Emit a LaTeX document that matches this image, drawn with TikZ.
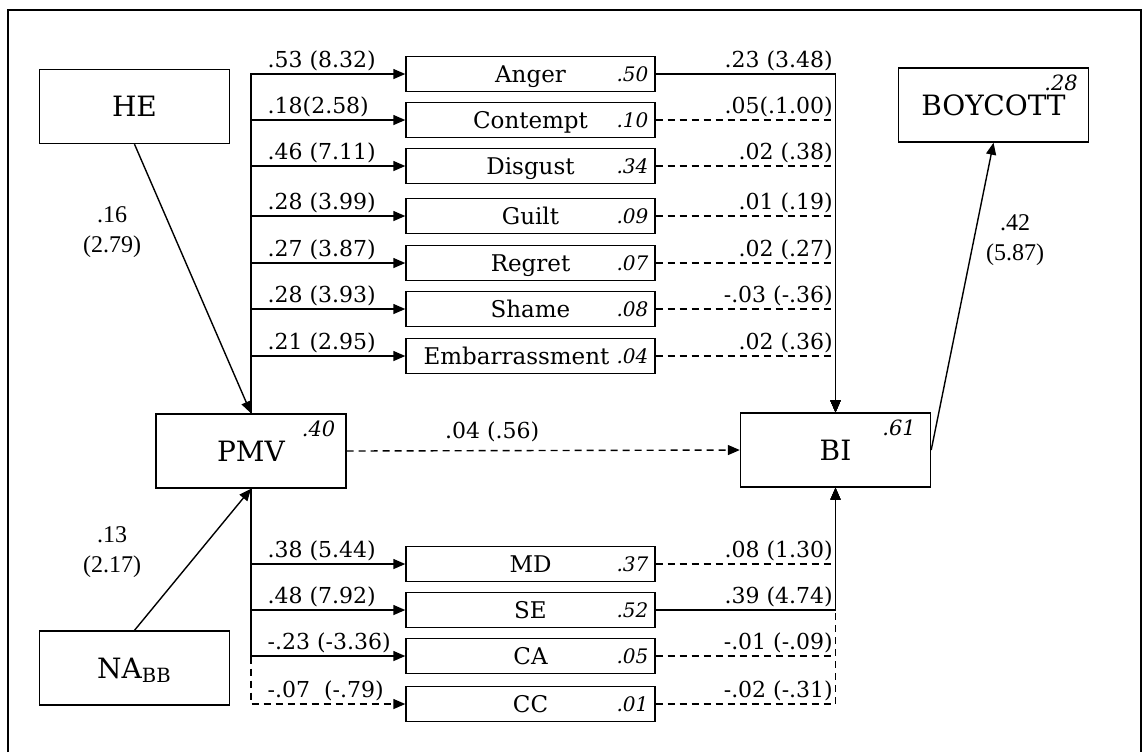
\documentclass[tikz,border=0pt]{standalone}
\usepackage{fontspec}
\setmainfont{DejaVu Serif}
\newfontfamily\timesfont{Liberation Serif}
\usetikzlibrary{arrows.meta}
\tikzset{
  bigbox/.style={draw, line width=0.7pt, minimum width=95pt, minimum height=37pt, text height=10pt, text depth=0pt, font=\fontsize{14}{16}\selectfont},
  emo/.style={draw, line width=0.7pt, minimum width=124.5pt, minimum height=17.5pt, inner sep=0pt, text height=8.5pt, text depth=0pt, font=\fontsize{11.5}{13}\selectfont},
  rsq/.style={font=\fontsize{10}{12}\selectfont\itshape, anchor=east, xshift=-3pt, inner sep=0.5pt},
  corner/.style={font=\fontsize{10.5}{12}\selectfont\itshape, anchor=north east, xshift=-5pt, yshift=-3pt, inner sep=0.5pt},
  arr/.style={line width=0.7pt, -{Triangle[length=6pt,width=5pt]}},
  darr/.style={arr, dash pattern=on 3.5pt off 2.5pt},
  lbl/.style={font=\fontsize{11}{13}\selectfont, inner sep=0pt},
  lblin/.style={lbl, pos=0.5, anchor=base west, xshift=8pt, yshift=3.5pt},
  lblout/.style={lbl, pos=0.5, anchor=base east, xshift=-1pt, yshift=3.5pt},
  coef/.style={font=\timesfont\fontsize{12}{15}\selectfont, align=center, inner sep=0pt}
}
\begin{document}
\begin{tikzpicture}[x=0.5pt, y=-0.5pt]
  \useasboundingbox (0,0) rectangle (1143,752);
  \draw[line width=1pt] (8,752) -- (8,10) -- (1141,10) -- (1141,752);
  % constructs
  \node[bigbox] (he) at (134.5,106.5) {HE};
  \node[bigbox, label={[corner]north east:.40}] (pmv) at (251,451) {PMV};
  \node[bigbox] (na) at (134.5,668) {NA\textsubscript{BB}};
  \node[bigbox, label={[corner, xshift=-2pt]north east:.61}] (bi) at (835.5,450) {BI};
  \node[bigbox, label={[corner]north east:.28}] (boycott) at (993.5,105) {BOYCOTT};
  % mediators
  \foreach \n/\lab/\rs/\yy in {anger/Anger/.50/74, contempt/Contempt/.10/120, disgust/Disgust/.34/166,
      guilt/Guilt/.09/216, regret/Regret/.07/263, shame/Shame/.08/309, embar/{Embarrassment\hspace*{14pt}}/.04/356,
      md/MD/.37/564, se/SE/.52/610, ca/CA/.05/656, cc/CC/.01/704}
    \node[emo, label={[rsq]east:\rs}] (\n) at (530.5,\yy) {\lab};
  % PMV to mediators
  \foreach \n/\cf in {anger/{.53 (8.32)}, contempt/{.18(2.58)}, disgust/{.46 (7.11)}, guilt/{.28 (3.99)},
      regret/{.27 (3.87)}, shame/{.28 (3.93)}, embar/{.21 (2.95)}}
    \draw[arr] (pmv.north) |- node[lblin] {\cf} (\n.west);
  \draw[darr] (pmv.south) |- node[lblin] {-.07\ \ (-.79)} (cc.west);
  \foreach \n/\cf in {md/{.38 (5.44)}, se/{.48 (7.92)}, ca/{-.23 (-3.36)}}
    \draw[arr] (pmv.south) |- node[lblin] {\cf} (\n.west);
  % mediators to BI
  \foreach \n/\cf in {contempt/{.05(.1.00)}, disgust/{.02 (.38)}, guilt/{.01 (.19)}, regret/{.02 (.27)},
      shame/{-.03 (-.36)}, embar/{.02 (.36)}}
    \draw[darr] (\n.east) -| node[lblout] {\cf} (bi.north);
  \draw[arr] (anger.east) -| node[lblout] {.23 (3.48)} (bi.north);
  \foreach \n/\cf in {md/{.08 (1.30)}, ca/{-.01 (-.09)}, cc/{-.02 (-.31)}}
    \draw[darr] (\n.east) -| node[lblout] {\cf} (bi.south);
  \draw[arr] (se.east) -| node[lblout] {.39 (4.74)} (bi.south);
  % direct paths
  \draw[arr] (he.south) -- (pmv.north);
  \draw[arr] (na.north) -- (pmv.south);
  \draw[darr] (pmv.east) -- node[lbl, pos=0.37, above=4pt] {.04 (.56)} (bi.west);
  \draw[arr] (bi.east) -- (boycott.south);
  \node[coef] (hecoef) at (112,232) {.16\\(2.79)};
  \node[coef] (nacoef) at (112,552) {.13\\(2.17)};
  \node[coef] (bicoef) at (1015,240) {.42\\(5.87)};
\end{tikzpicture}
\end{document}
